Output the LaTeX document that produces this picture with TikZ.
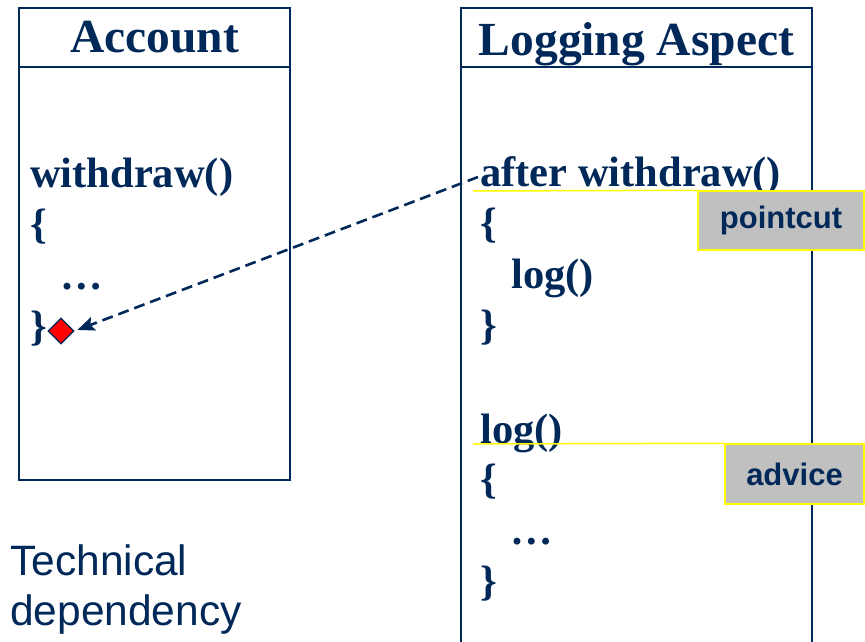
\documentclass[tikz,border=0pt]{standalone}
\usepackage{fontspec}
\setmainfont{Liberation Serif}
\setsansfont{Liberation Sans}
\usetikzlibrary{shapes.geometric,arrows.meta}
\definecolor{navy}{RGB}{0,40,88}
\definecolor{tagfill}{RGB}{192,192,192}
\definecolor{tagline}{RGB}{255,255,0}
\tikzset{
  classbox/.style={draw=navy,line width=2pt},
  title/.style={anchor=base,text=navy,inner sep=0pt,font=\bfseries\fontsize{47.5}{52}\selectfont},
  code/.style={anchor=base west,text=navy,inner sep=0pt,font=\bfseries\fontsize{42.5}{50}\selectfont},
  plain/.style={anchor=base west,text=navy,inner sep=0pt,font=\sffamily\fontsize{42.5}{50}\selectfont},
  tag/.style={draw=tagline,fill=tagfill,line width=1.5pt,text=navy,inner sep=0pt,
    font=\sffamily\bfseries\fontsize{31}{36}\selectfont},
  marker/.style={shape=diamond,draw=navy,fill=red,line width=1.2pt,inner sep=0pt,
    minimum width=26pt,minimum height=26pt},
  tagrule/.style={draw=tagline,line width=1.5pt},
  link/.style={draw=navy,line width=2.6pt,dash pattern=on 11pt off 6pt,
    -{Stealth[length=17pt,width=14pt,inset=3pt]}}
}
\begin{document}
\begin{tikzpicture}[x=1pt,y=-1pt]
\useasboundingbox (0,0) rectangle (865,641);
\clip (0,0) rectangle (865,641);

% Account class
\draw[classbox] (19,8) rectangle (290,480);
\draw[classbox,line width=1.6pt] (19,67) -- (290,67);
\node[title] (acct) at (154.5,52) {Account};
\node[code] (wd) at (30,187) {withdraw()};
\node[code] (wdopen) at (30,238) {\{};
\node[code] (wddots) at (60,289) {…};
\node[code] (wdclose) at (30,340) {\}};
\node[marker] (dm) at (61,331) {};

% Logging aspect
\draw[classbox] (461,660) -- (461,8) -- (812,8) -- (812,660);
\draw[classbox,line width=1.6pt] (461,67) -- (812,67);
\node[title] (asp) at (636.5,55) {Logging Aspect};
\node[code] (aw) at (480,186) {after withdraw()};
\node[code] (awopen) at (480,237) {\{};
\node[code] (awlog) at (511,288) {log()};
\node[code] (awclose) at (480,339) {\}};
\node[code] (lg) at (480,443) {log()};
\node[code] (lgopen) at (480,493) {\{};
\node[code] (lgdots) at (510,544) {…};
\node[code] (lgclose) at (480,595) {\}};

% pointcut and advice tags
\node[tag,minimum width=166pt,minimum height=59pt] (pc) at (781,220.5) {pointcut};
\node[tag,minimum width=139pt,minimum height=60pt] (ad) at (794.5,474) {advice};
\draw[tagrule] (473,191) -- (pc.north west);
\draw[tagrule] (473,444) -- (ad.north west);

% dependency from the advice to the join point
\coordinate (src) at (478,177);
\draw[link,shorten >=3pt] (src) -- (dm.east);

\node[plain] (tech) at (10,575) {Technical};
\node[plain] (dep) at (10,625) {dependency};
\end{tikzpicture}
\end{document}
